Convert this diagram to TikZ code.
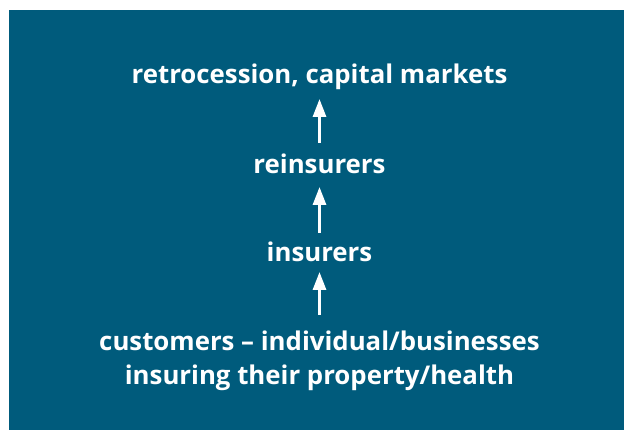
\documentclass[tikz,border=0pt]{standalone}
\usepackage{fontspec}
\setmainfont{Open Sans}
\usetikzlibrary{arrows.meta}
\definecolor{bgblue}{RGB}{0,91,124}
\tikzset{
  lbl/.style={text=white, font=\bfseries\fontsize{25.8}{33.5}\selectfont, inner sep=0pt, anchor=base, align=center},
  arr/.style={draw=white, line width=3pt, -{Triangle[width=13pt,length=18pt]}}
}
\begin{document}
\begin{tikzpicture}[x=1pt,y=1pt]
\useasboundingbox (0,0) rectangle (624,430);
\fill[bgblue] (9,0) rectangle (624,420);
\node[lbl] (retro) at (319.5,346) {retrocession, capital markets};
\node[lbl] (rein) at (319.5,256) {reinsurers};
\node[lbl] (ins) at (319.5,168) {insurers};
\node[lbl] (cust) at (319.5,45.5) {customers – individual/businesses\\insuring their property/health};
\draw[arr] ([yshift=31pt]rein.base) -- ([yshift=-15pt]retro.base);
\draw[arr] ([yshift=29pt]ins.base) -- ([yshift=-13pt]rein.base);
\draw[arr] ([yshift=69.5pt]cust.base) -- ([yshift=-10pt]ins.base);
\end{tikzpicture}
\end{document}
